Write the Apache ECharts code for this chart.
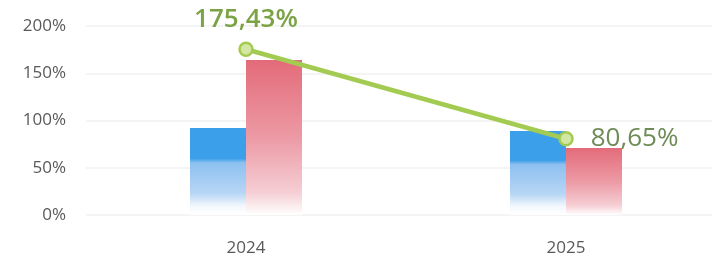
<!DOCTYPE html>
<html>
<head>
<meta charset="utf-8">
<script src="https://cdn.jsdelivr.net/npm/echarts@6.0.0/dist/echarts.min.js"></script>
<style>
  html, body { margin: 0; padding: 0; background: #ffffff; overflow: hidden; }
  #chart { width: 740px; height: 262px; }
</style>
</head>
<body>
<div id="chart"></div>
<script>
// values (percent)
const years = ['2024', '2025'];
const blueValues = [92, 89];
const redValues = [164, 71];
const ratioValues = [175.43, 80.65];

function fade(top, mid, low) {
  return new echarts.graphic.LinearGradient(0, 0, 0, 1, [
    { offset: 0, color: top },
    { offset: 0.35, color: top },
    { offset: 0.4, color: mid },
    { offset: 0.75, color: low },
    { offset: 0.9, color: '#f4f8fd' },
    { offset: 1, color: '#ffffff' }
  ]);
}

const chart = echarts.init(document.getElementById('chart'));

// the plot runs past the right edge of the 712px window, as in the source picture
chart.setOption({
  backgroundColor: '#ffffff',
  animation: false,
  grid: { left: 86, width: 640, top: 26, bottom: 47 },
  xAxis: {
    type: 'category',
    data: years,
    axisLine: { show: false },
    axisTick: { show: false },
    axisLabel: { color: '#595959', fontSize: 17, margin: 25, fontFamily: 'Open Sans' }
  },
  yAxis: {
    type: 'value',
    min: 0,
    max: 200,
    interval: 50,
    axisLabel: {
      formatter: '{value}%',
      color: '#595959',
      fontSize: 17,
      margin: 20,
      fontFamily: 'Open Sans'
    },
    splitLine: { lineStyle: { color: '#f1f1f1', width: 1.5 } }
  },
  series: [
    {
      type: 'bar',
      data: blueValues,
      barWidth: '17.5%',
      barGap: '0%',
      itemStyle: { color: fade('#3b9fe9', '#8dc0f0', '#b7d6f5') }
    },
    {
      type: 'bar',
      data: redValues,
      barWidth: '17.5%',
      itemStyle: {
        color: new echarts.graphic.LinearGradient(0, 0, 0, 1, [
          { offset: 0, color: '#e36b79' },
          { offset: 0.5, color: '#ec9aa5' },
          { offset: 0.85, color: '#f5cdd3' },
          { offset: 1, color: '#ffffff' }
        ])
      }
    },
    {
      type: 'line',
      data: ratioValues,
      symbol: 'circle',
      symbolSize: 13,
      lineStyle: { color: '#a3cb52', width: 4.5 },
      itemStyle: { color: '#d4e6a3', borderColor: '#a3cb52', borderWidth: 2.5 },
      label: {
        show: true,
        fontSize: 26,
        fontFamily: 'Open Sans',
        fontWeight: 600,
        formatter: p => p.value.toFixed(2).replace('.', ',') + '%'
      },
      labelLayout: { hideOverlap: false },
      z: 5,
      data: [
        { value: ratioValues[0], label: { position: 'top', distance: 9, color: '#7ba344' } },
        { value: ratioValues[1], label: { position: 'right', distance: 17, color: '#6f8c57', fontWeight: 500 } }
      ]
    }
  ]
});
</script>
</body>
</html>
